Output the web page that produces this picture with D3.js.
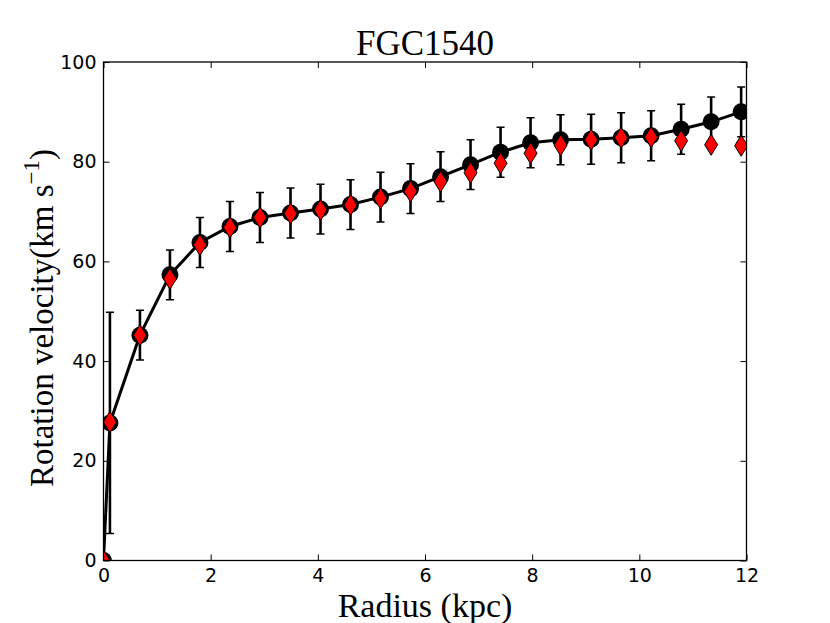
<!DOCTYPE html>
<html>
<head>
<meta charset="utf-8">
<script src="https://cdn.jsdelivr.net/npm/d3@7"></script>
<style>
  body { margin: 0; background: #fff; }
  .tick text { font-family: "DejaVu Sans", sans-serif; font-size: 19px; fill: #000; }
  .tick line { stroke: #000; stroke-width: 1; }
</style>
</head>
<body>
<svg id="chart" width="830" height="623"></svg>
<script>
// radius (kpc) of each sampled point
const radius = [0, 0.12, 0.68, 1.24, 1.80, 2.36, 2.92, 3.49, 4.05, 4.61, 5.17, 5.73,
  6.29, 6.85, 7.41, 7.97, 8.53, 9.10, 9.66, 10.22, 10.78, 11.34, 11.90];
// black circles + line (km/s)
const vModel = [0, 27.6, 45.2, 57.3, 63.8, 67.0, 68.8, 69.7, 70.5, 71.4, 72.9, 74.6,
  77.0, 79.4, 81.9, 83.8, 84.4, 84.5, 84.8, 85.2, 86.5, 88.0, 90.0];
// error on the black points
const vErr = [0, 22.2, 5, 5, 5, 5, 5, 5, 5, 5, 5, 5,
  5, 5, 5, 5, 5, 5, 5, 5, 5, 5, 5];
// red diamonds
const vData = [0, 27.8, 45.2, 56.5, 63.3, 66.8, 68.8, 69.6, 70.3, 71.3, 72.6, 74.0,
  76.0, 77.8, 79.7, 81.7, 83.3, 84.4, 84.8, 84.9, 84.2, 83.4, 83.2];

const xTicks = [0, 2, 4, 6, 8, 10, 12];
const yTicks = [0, 20, 40, 60, 80, 100];

const SIZE = { left: 103.5, top: 62, width: 643, height: 498.5 };

const svg = d3.select("#chart");

const x = d3.scaleLinear().domain([0, 12]).range([0, SIZE.width]);
const y = d3.scaleLinear().domain([0, 100]).range([SIZE.height, 0]);

const g = svg.append("g")
  .attr("id", "g-area")
  .attr("transform", `translate(${SIZE.left}, ${SIZE.top})`);

g.append("clipPath").attr("id", "clip")
  .append("rect")
  .attr("width", SIZE.width)
  .attr("height", SIZE.height);

// axes, ticks pointing inward on all four sides
const xAxisCall = d3.axisBottom(x).tickValues(xTicks).tickSizeInner(-6).tickSizeOuter(0).tickPadding(8);
const yAxisCall = d3.axisLeft(y).tickValues(yTicks).tickSizeInner(-6).tickSizeOuter(0).tickPadding(7);

g.append("g").attr("transform", `translate(0, ${SIZE.height})`).call(xAxisCall);
g.append("g").call(yAxisCall);
g.append("g").call(d3.axisTop(x).tickValues(xTicks).tickSizeInner(-6).tickSizeOuter(0).tickFormat(""));
g.append("g").attr("transform", `translate(${SIZE.width}, 0)`)
  .call(d3.axisRight(y).tickValues(yTicks).tickSizeInner(-6).tickSizeOuter(0).tickFormat(""));
g.selectAll(".domain").remove();

const plot = g.append("g").attr("clip-path", "url(#clip)");

const points = radius.map((r, i) => ({ r, v: vModel[i], e: vErr[i], d: vData[i] }));

// model line
const line = d3.line().x(d => x(d.r)).y(d => y(d.v));
plot.append("path")
  .datum(points)
  .attr("d", line)
  .attr("fill", "none")
  .attr("stroke", "#000")
  .attr("stroke-width", 3);

// error bars
const bars = plot.selectAll(".err")
  .data(points.filter(d => d.e > 0))
  .join("g")
  .attr("class", "err");

bars.append("line")
  .attr("x1", d => x(d.r)).attr("x2", d => x(d.r))
  .attr("y1", d => y(d.v - d.e)).attr("y2", d => y(d.v + d.e))
  .attr("stroke", "#000").attr("stroke-width", 2.6);

bars.selectAll(".cap")
  .data(d => [d.v - d.e, d.v + d.e].map(v => ({ r: d.r, v })))
  .join("line")
  .attr("class", "cap")
  .attr("x1", d => x(d.r) - 4).attr("x2", d => x(d.r) + 4)
  .attr("y1", d => y(d.v)).attr("y2", d => y(d.v))
  .attr("stroke", "#000").attr("stroke-width", 1.5);

// black circles
plot.selectAll(".dot")
  .data(points)
  .join("circle")
  .attr("class", "dot")
  .attr("cx", d => x(d.r))
  .attr("cy", d => y(d.v))
  .attr("r", 8.5)
  .attr("fill", "#000");

// red thin diamonds
const diamond = "M0,-10.5L6.5,0L0,10.5L-6.5,0Z";
plot.selectAll(".dia")
  .data(points)
  .join("path")
  .attr("class", "dia")
  .attr("d", diamond)
  .attr("transform", d => `translate(${x(d.r)}, ${y(d.d)})`)
  .attr("fill", "#ff0000")
  .attr("stroke", "#000")
  .attr("stroke-width", 1);

// frame
g.append("rect")
  .attr("width", SIZE.width)
  .attr("height", SIZE.height)
  .attr("fill", "none")
  .attr("stroke", "#000")
  .attr("stroke-width", 1.3);

// title and labels
const serif = "'Liberation Serif', 'Times New Roman', serif";

svg.append("text")
  .attr("x", SIZE.left + SIZE.width / 2)
  .attr("y", 55)
  .attr("text-anchor", "middle")
  .style("font-family", serif)
  .style("font-size", "35px")
  .text("FGC1540");

svg.append("text")
  .attr("x", SIZE.left + SIZE.width / 2)
  .attr("y", 617)
  .attr("text-anchor", "middle")
  .style("font-family", serif)
  .style("font-size", "34px")
  .text("Radius (kpc)");

const yl = svg.append("text")
  .attr("transform", `translate(53, 318) rotate(-90)`)
  .attr("text-anchor", "middle")
  .style("font-family", serif)
  .style("font-size", "33px");
yl.append("tspan").text("Rotation velocity(km s");
yl.append("tspan").attr("dy", -14).style("font-size", "23px").text("\u22121");
yl.append("tspan").attr("dy", 14).text(")");
</script>
</body>
</html>
